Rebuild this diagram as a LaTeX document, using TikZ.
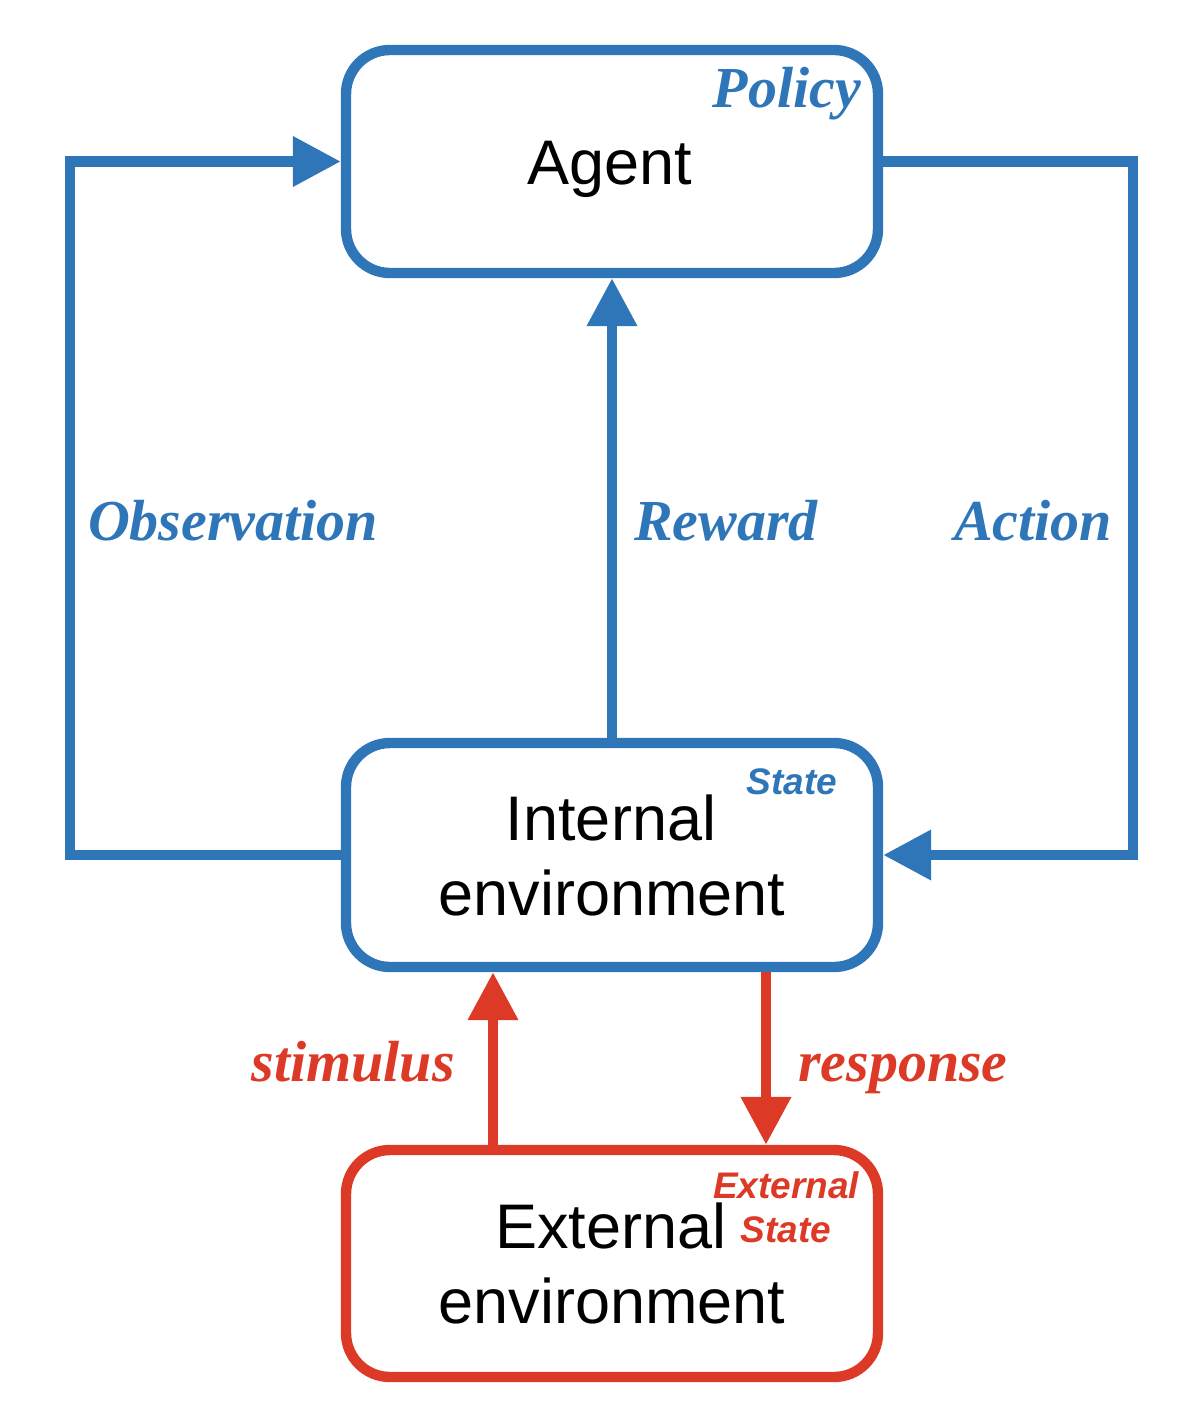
\documentclass[tikz,border=0pt]{standalone}
\usepackage{fontspec}
\setmainfont{Liberation Sans}
\newfontfamily\serifbi{Liberation Serif}
\usetikzlibrary{arrows.meta}
\definecolor{cblue}{HTML}{2F76B9}
\definecolor{cred}{HTML}{DC3A26}
\tikzset{
  box/.style={draw, line width=5.2pt, rounded corners=22pt, minimum width=266pt, inner sep=0pt},
  conn/.style={line width=5.2pt, -{Triangle[length=24pt,width=24pt]}},
  maintxt/.style={anchor=base, inner sep=0pt, font=\fontsize{31.5}{37.5}\selectfont},
  smalllab/.style={anchor=base, inner sep=0pt, font=\fontsize{18.5}{21}\selectfont\bfseries\itshape},
  edgelab/.style={anchor=base, inner sep=0pt, font=\fontsize{29}{34}\selectfont\serifbi\bfseries\itshape},
}
\begin{document}
\begin{tikzpicture}[x=0.5pt,y=-0.5pt]
\useasboundingbox (0,0) rectangle (1184,1422);
% boxes
\node[box, cblue, minimum height=111.5pt] (agent) at (612,161.5) {};
\node[box, cblue, minimum height=112pt] (int) at (612,855) {};
\node[box, cred, minimum height=113.5pt] (ext) at (612,1263.5) {};
% helper coordinates
\coordinate (obsx) at (70,0);
\coordinate (actx) at (1133,0);
\coordinate (stimx) at (493,0);
\coordinate (respx) at (766,0);
% connectors
\draw[conn, cblue] (int.west) -- (int.west -| obsx) -- (agent.west -| obsx) -- (agent.west);
\draw[conn, cblue] (agent.east) -- (agent.east -| actx) -- (int.east -| actx) -- (int.east);
\draw[conn, cblue] (int.north) -- (agent.south);
\draw[conn, cred] (ext.north -| stimx) -- (int.south -| stimx);
\draw[conn, cred] (int.south -| respx) -- (ext.north -| respx);
% texts
\node[maintxt] (agentT) at (610,185) {Agent};
\node[maintxt] (intT1) at (611,840) {Internal};
\node[maintxt] (intT2) at (612,915) {environment};
\node[maintxt] (extT1) at (611,1248) {External};
\node[maintxt] (extT2) at (612,1323) {environment};
\node[edgelab, cblue] (policy) at (787,108) {Policy};
\node[edgelab, cblue] (obs) at (233,540) {Observation};
\node[edgelab, cblue] (rew) at (726,540) {Reward};
\node[edgelab, cblue] (act) at (1033,540) {Action};
\node[edgelab, cred] (stim) at (353,1081) {stimulus};
\node[edgelab, cred] (resp) at (903,1081) {response};
\node[smalllab, cblue] (state) at (792,794) {State};
\node[smalllab, cred] (extS1) at (786,1198) {External};
\node[smalllab, cred] (extS2) at (786,1242) {State};
\end{tikzpicture}
\end{document}
